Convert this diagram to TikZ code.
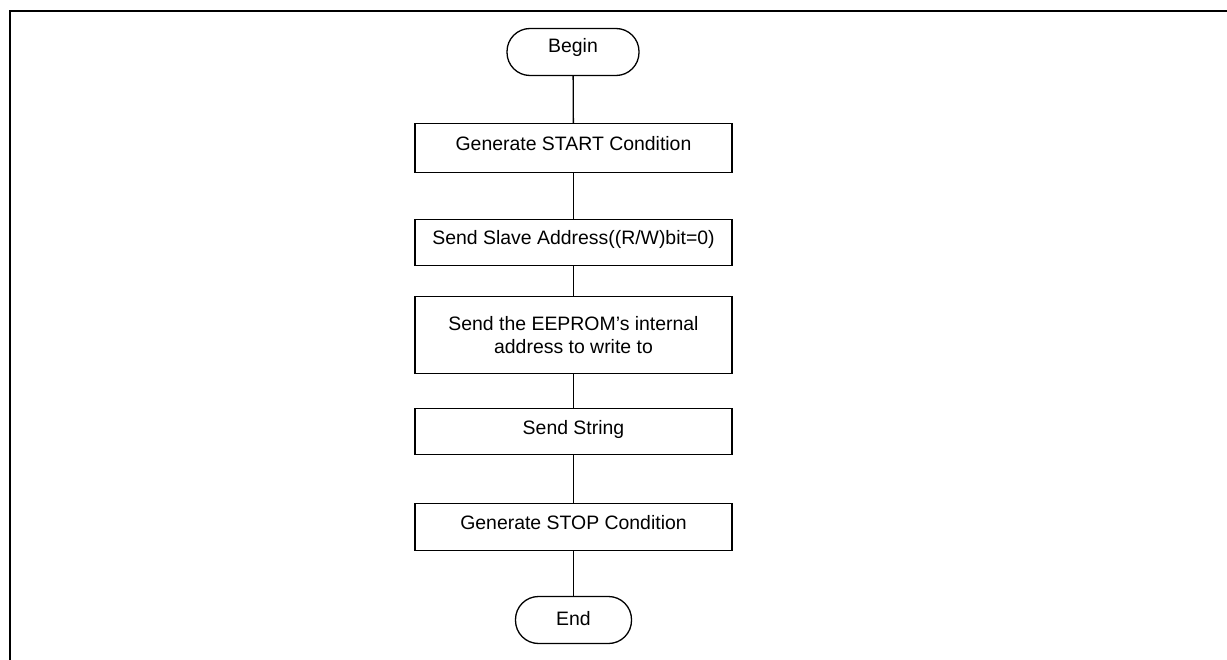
\documentclass[tikz,border=0pt]{standalone}
\usepackage{fontspec}
\setmainfont{Liberation Sans}
\begin{document}
\begin{tikzpicture}[x=1bp,y=-1bp,
  every node/.style={font=\fontsize{19.5}{23}\selectfont, align=center, inner sep=0pt},
  procbox/.style={draw, line width=1.3bp, minimum width=317bp, anchor=north},
  raised/.style={text height=14bp, text depth=9bp},
  termbox/.style={draw, line width=1.3bp, rounded corners=23bp, minimum height=47bp},
  link/.style={line width=1.3bp}]
\useasboundingbox (0,0) rectangle (1227,660);
\draw[line width=2.3bp] (1230,11) -- (10,11) -- (10,663);
\node[termbox, text height=14bp, text depth=12bp, minimum width=132bp] (begin) at (573,52) {Begin};
\node[procbox, raised, minimum height=49bp] (start) at (573.5,123) {Generate START Condition};
\node[procbox, text height=14bp, text depth=11bp, minimum height=46bp] (slave) at (573.5,219) {Send Slave Address((R/W)bit=0)};
\node[procbox, minimum height=77bp] (addr) at (573.5,296) {Send the EEPROM’s internal\\address to write to};
\node[procbox, raised, minimum height=46bp] (string) at (573.5,408) {Send String};
\node[procbox, raised, minimum height=47bp] (stop) at (573.5,503) {Generate STOP Condition};
\node[termbox, text height=14bp, text depth=3bp, minimum width=116bp] (end) at (573.5,620) {End};
\draw[link] (begin) -- (start);
\draw[link] (start) -- (slave);
\draw[link] (slave) -- (addr);
\draw[link] (addr) -- (string);
\draw[link] (string) -- (stop);
\draw[link] (stop) -- (end);
\end{tikzpicture}
\end{document}
